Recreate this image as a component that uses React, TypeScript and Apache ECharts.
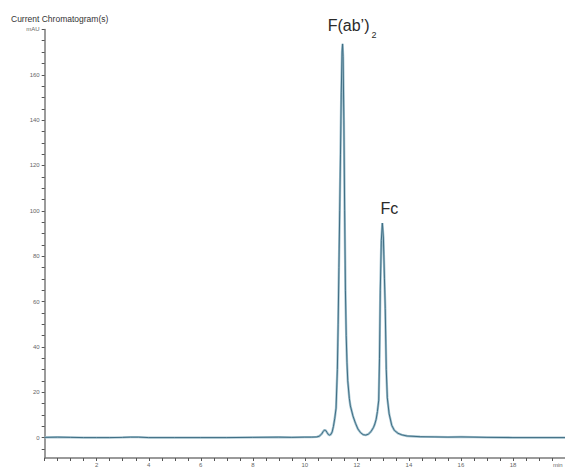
import React, { useEffect, useRef } from "react";
import * as echarts from "echarts";

// Retention time (min) and absorbance (mAU)
const times = [
  0, 0.5, 1, 1.5, 2, 2.5, 3, 3.3, 3.6, 4, 5, 6, 7, 8, 9, 9.5, 10, 10.26, 10.46,
  10.55, 10.65, 10.7, 10.75, 10.8, 10.85, 10.9, 10.95, 11.0, 11.05, 11.1, 11.15,
  11.2, 11.25, 11.28, 11.31, 11.34, 11.37, 11.4, 11.43, 11.45, 11.47, 11.5,
  11.53, 11.56, 11.59, 11.62, 11.65, 11.71, 11.75, 11.85, 11.95, 12.04, 12.14, 12.24,
  12.34, 12.44, 12.54, 12.64, 12.69, 12.74, 12.79, 12.84, 12.87, 12.9, 12.94, 12.98,
  13.02, 13.06, 13.09, 13.13, 13.17, 13.24, 13.34, 13.44, 13.58, 13.73, 13.93, 14.43,
  15, 15.5, 16, 17, 18, 19, 20,
];
const absorbance = [
  0.1, 0.2, 0.1, 0, 0, 0, 0.1, 0.2, 0.2, 0, 0, 0, 0, 0.1, 0.2, 0.1, 0.2, 0.2, 0.3,
  0.6, 1.6, 2.6, 3.3, 3.2, 2.3, 1.4, 1.1, 1.4, 2.5, 5, 8.5,
  13, 30, 50, 75, 100, 125, 152, 170, 173.6, 168, 140,
  100, 65, 45, 33, 25, 17.3, 14, 9.5, 6.2, 3.8, 2.2, 1.3,
  1.1, 1.5, 2.6, 4.5, 6, 8, 11.5, 16.5, 35, 65, 87, 94.6,
  88, 70, 57, 30, 17.5, 10.5, 5.4, 3.2, 1.9, 1.2, 0.7, 0.4,
  0.3, 0.2, 0.3, 0.1, 0, 0, 0,
];

const yLabelValues = [0, 20, 40, 60, 80, 100, 120, 140, 160, 180];
const yTickValues = [
  -5, 0, 5, 10, 15, 20, 25, 30, 35, 40, 45, 50, 55, 60, 65, 70, 75, 80, 85, 90,
  95, 100, 105, 110, 115, 120, 125, 130, 135, 140, 145, 150, 155, 160, 165, 170,
  175, 180,
];
const xLabelValues = [2, 4, 6, 8, 10, 12, 14, 16, 18];
const yUnit = "mAU";
const xUnit = "min";
const chartTitle = "Current Chromatogram(s)";
const peak1Label = "F(ab\u2019)";
const peak1Sub = "2";
const peak2Label = "Fc";

export default function App() {
  const ref = useRef<HTMLDivElement>(null);
  useEffect(() => {
    document.body.style.margin = "0";
    if (!ref.current) return;
    const chart = echarts.init(ref.current, null, { renderer: "svg" });
    const data = times.map((t, i) => [t, absorbance[i]]);
    const font = "'Liberation Sans', Arial, Helvetica, sans-serif";
    chart.setOption({
      animation: false,
      backgroundColor: "#ffffff",
      textStyle: { fontFamily: font },
      grid: { left: 44.7, right: 0, top: 29.4, bottom: 8.2 },
      xAxis: {
        type: "value",
        min: 0,
        max: 20,
        interval: 2,
        axisLine: { show: true, onZero: false, lineStyle: { color: "#7a7a7a", width: 1.5 } },
        axisTick: { show: true, length: 3, lineStyle: { color: "#555", width: 1 } },
        minorTick: { show: true, splitNumber: 4, length: 3, lineStyle: { color: "#555", width: 1 } },
        splitLine: { show: false },
        axisLabel: {
          fontSize: 6,
          color: "#666",
          margin: 4,
          fontFamily: font,
          customValues: xLabelValues,
          formatter: (v: number) => String(v),
        },
      },
      yAxis: {
        type: "value",
        min: -9,
        max: 180,
        axisLine: { show: true, onZero: false, lineStyle: { color: "#7a7a7a", width: 1.5 } },
        axisTick: {
          show: true,
          length: 3,
          customValues: yTickValues,
          lineStyle: { color: "#555", width: 1 },
        },
        splitLine: { show: false },
        axisLabel: {
          fontSize: 6,
          color: "#666",
          margin: 5,
          fontFamily: font,
          customValues: yLabelValues,
          formatter: (v: number) => (v === 180 ? yUnit : String(v)),
        },
      },
      graphic: [
        {
          type: "text",
          left: 11,
          top: 14,
          style: { text: chartTitle, fontSize: 8.5, fill: "#333", fontFamily: font },
        },
        {
          type: "text",
          x: 553,
          y: 461.5,
          style: { text: xUnit, fontSize: 6, fill: "#666", fontFamily: font, verticalAlign: "top" },
        },
        {
          type: "text",
          x: 327.7,
          y: 33,
          style: {
            text: peak1Label,
            fontSize: 16,
            fill: "#2a2a2a",
            fontFamily: font,
            verticalAlign: "bottom",
          },
        },
        {
          type: "text",
          x: 371.5,
          y: 39,
          style: { text: peak1Sub, fontSize: 9, fill: "#2a2a2a", fontFamily: font, verticalAlign: "bottom" },
        },
        {
          type: "text",
          x: 380.5,
          y: 216,
          style: { text: peak2Label, fontSize: 16, fill: "#2a2a2a", fontFamily: font, verticalAlign: "bottom" },
        },
      ],
      series: [
        {
          type: "line",
          data,
          showSymbol: false,
          lineStyle: { color: "#a3c2cf", width: 2.4 },
          z: 1,
        },
        {
          type: "line",
          data,
          showSymbol: false,
          lineStyle: { color: "#3f6e84", width: 1 },
          z: 2,
        },
      ],
    });
    return () => chart.dispose();
  }, []);
  return <div ref={ref} style={{ width: 565, height: 468 }} />;
}
